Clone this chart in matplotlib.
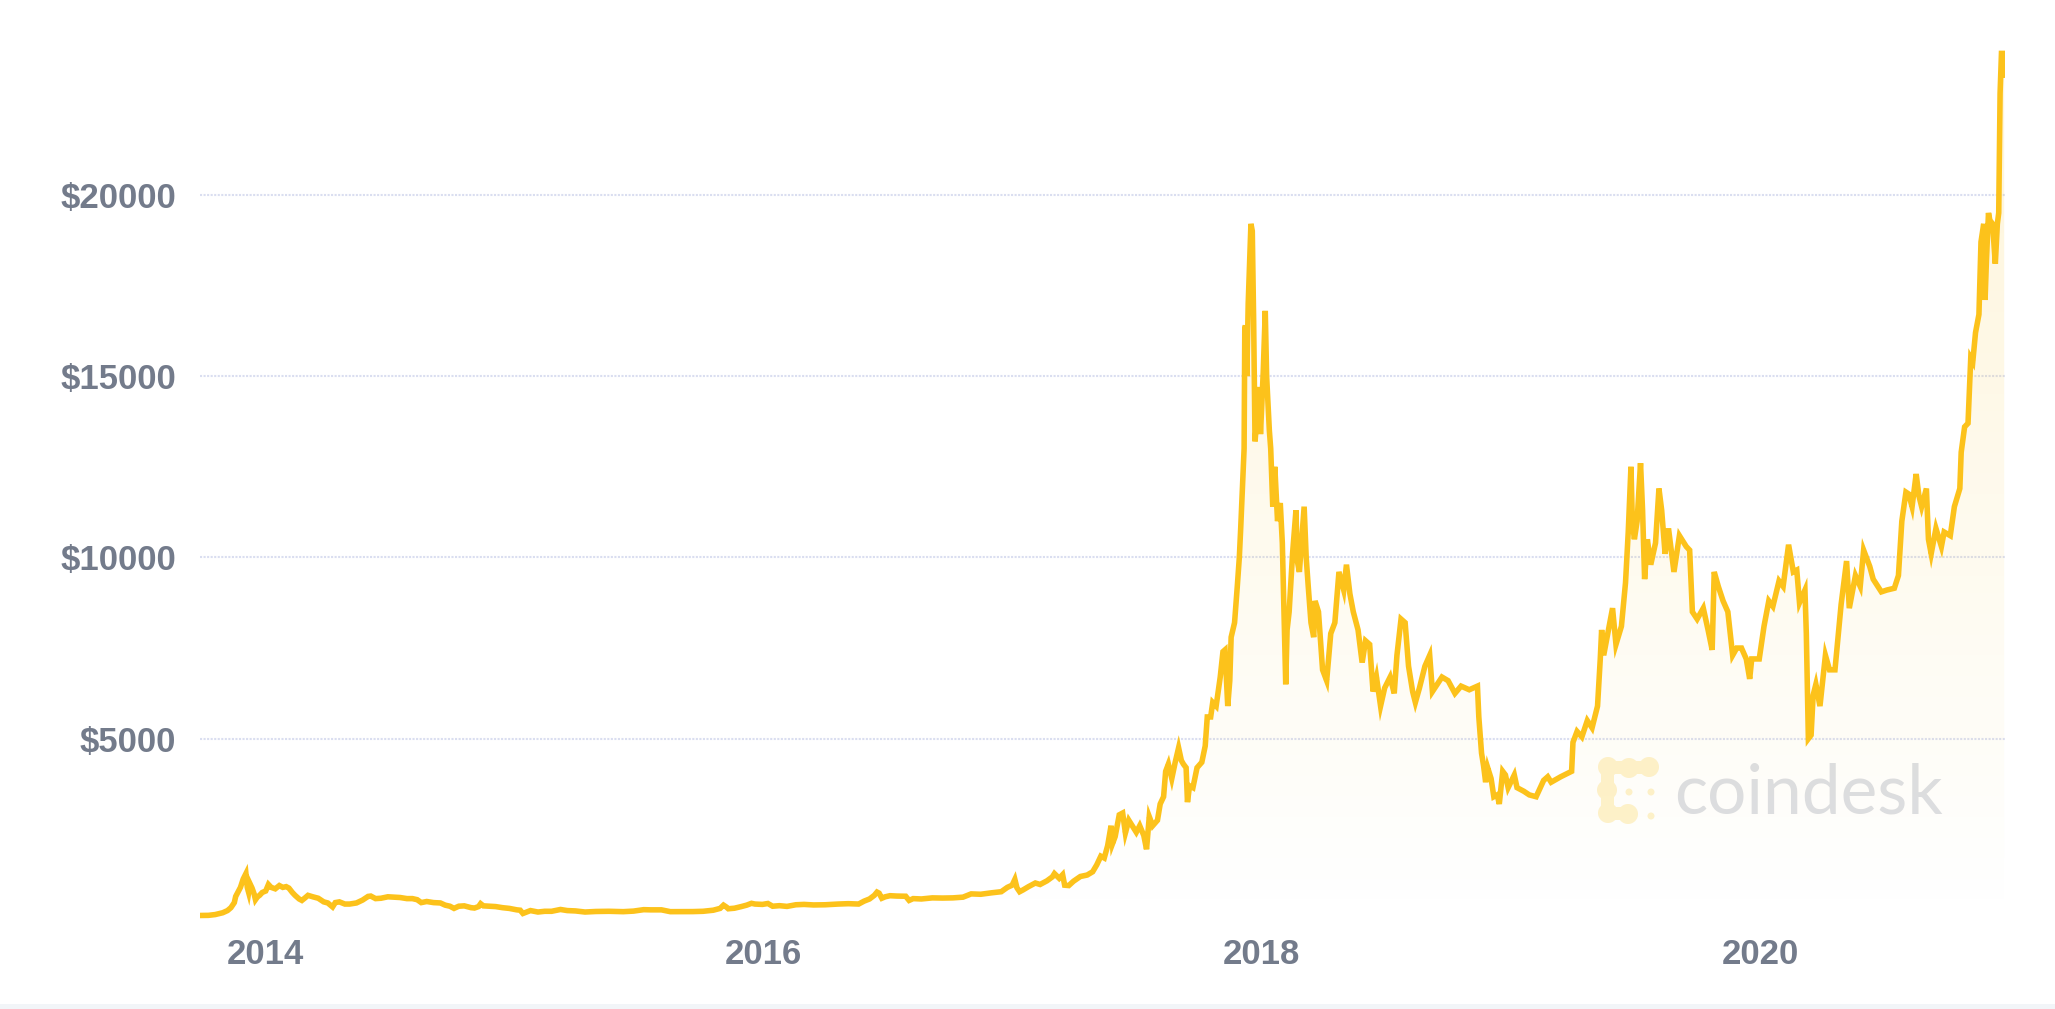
import numpy as np
import pandas as pd
import matplotlib
matplotlib.use('Agg')
from matplotlib import pyplot as plt
from matplotlib import dates as mdates
from matplotlib.colors import LinearSegmentedColormap
from matplotlib.patches import Circle, Rectangle

# price history (USD)
dates = [
    '2013-09-28', '2013-10-10', '2013-10-20', '2013-10-31', '2013-11-07', '2013-11-12', '2013-11-17',
    '2013-11-19', '2013-11-22', '2013-11-26', '2013-11-30', '2013-12-04', '2013-12-06', '2013-12-08',
    '2013-12-10', '2013-12-13', '2013-12-16', '2013-12-18', '2013-12-21', '2013-12-24', '2013-12-28',
    '2014-01-02', '2014-01-06', '2014-01-10', '2014-01-16', '2014-01-22', '2014-01-27', '2014-02-01',
    '2014-02-05', '2014-02-10', '2014-02-14', '2014-02-20', '2014-02-24', '2014-02-28', '2014-03-05',
    '2014-03-12', '2014-03-20', '2014-03-28', '2014-04-03', '2014-04-10', '2014-04-14', '2014-04-20',
    '2014-04-28', '2014-05-05', '2014-05-15', '2014-05-24', '2014-06-01', '2014-06-05', '2014-06-12',
    '2014-06-20', '2014-06-30', '2014-07-08', '2014-07-18', '2014-07-28', '2014-08-05', '2014-08-12',
    '2014-08-18', '2014-08-26', '2014-09-05', '2014-09-15', '2014-09-22', '2014-09-29', '2014-10-05',
    '2014-10-12', '2014-10-20', '2014-10-30', '2014-11-04', '2014-11-10', '2014-11-13', '2014-11-17',
    '2014-11-25', '2014-12-05', '2014-12-15', '2014-12-25', '2015-01-05', '2015-01-10', '2015-01-14',
    '2015-01-18', '2015-01-25', '2015-02-05', '2015-02-15', '2015-02-25', '2015-03-10', '2015-03-20',
    '2015-04-01', '2015-04-15', '2015-05-01', '2015-05-20', '2015-06-10', '2015-06-25', '2015-07-10',
    '2015-07-20', '2015-08-05', '2015-08-18', '2015-09-01', '2015-09-20', '2015-10-05', '2015-10-20',
    '2015-10-30', '2015-11-04', '2015-11-08', '2015-11-11', '2015-11-20', '2015-11-30', '2015-12-08',
    '2015-12-15', '2015-12-20', '2015-12-31', '2016-01-08', '2016-01-15', '2016-01-25', '2016-02-05',
    '2016-02-18', '2016-03-01', '2016-03-15', '2016-04-01', '2016-04-20', '2016-05-05', '2016-05-20',
    '2016-05-28', '2016-06-05', '2016-06-12', '2016-06-16', '2016-06-19', '2016-06-23', '2016-06-28',
    '2016-07-05', '2016-07-15', '2016-07-28', '2016-08-02', '2016-08-08', '2016-08-20', '2016-09-05',
    '2016-09-20', '2016-10-05', '2016-10-20', '2016-11-01', '2016-11-15', '2016-12-01', '2016-12-15',
    '2016-12-24', '2016-12-31', '2017-01-04', '2017-01-07', '2017-01-11', '2017-01-16', '2017-01-24',
    '2017-02-03', '2017-02-10', '2017-02-20', '2017-02-28', '2017-03-03', '2017-03-10', '2017-03-15',
    '2017-03-18', '2017-03-24', '2017-03-31', '2017-04-10', '2017-04-20', '2017-04-28', '2017-05-04',
    '2017-05-10', '2017-05-15', '2017-05-20', '2017-05-25', '2017-05-27', '2017-05-31', '2017-06-06',
    '2017-06-11', '2017-06-15', '2017-06-20', '2017-06-25', '2017-07-01', '2017-07-06', '2017-07-12',
    '2017-07-16', '2017-07-20', '2017-07-25', '2017-08-01', '2017-08-05', '2017-08-10', '2017-08-13',
    '2017-08-17', '2017-08-22', '2017-08-27', '2017-09-01', '2017-09-05', '2017-09-08', '2017-09-12',
    '2017-09-14', '2017-09-17', '2017-09-22', '2017-09-28', '2017-10-05', '2017-10-10', '2017-10-13',
    '2017-10-18', '2017-10-21', '2017-10-26', '2017-11-01', '2017-11-05', '2017-11-08', '2017-11-12',
    '2017-11-15', '2017-11-17', '2017-11-22', '2017-11-26', '2017-11-29', '2017-12-01', '2017-12-06',
    '2017-12-07', '2017-12-08', '2017-12-10', '2017-12-12', '2017-12-16', '2017-12-18', '2017-12-20',
    '2017-12-22', '2017-12-25', '2017-12-28', '2017-12-30', '2018-01-03', '2018-01-06', '2018-01-08',
    '2018-01-12', '2018-01-14', '2018-01-17', '2018-01-20', '2018-01-24', '2018-01-28', '2018-01-31',
    '2018-02-02', '2018-02-05', '2018-02-07', '2018-02-10', '2018-02-15', '2018-02-20', '2018-02-22',
    '2018-02-25', '2018-03-04', '2018-03-07', '2018-03-10', '2018-03-14', '2018-03-18', '2018-03-20',
    '2018-03-25', '2018-03-31', '2018-04-06', '2018-04-12', '2018-04-18', '2018-04-24', '2018-05-01',
    '2018-05-05', '2018-05-10', '2018-05-15', '2018-05-22', '2018-05-28', '2018-06-02', '2018-06-08',
    '2018-06-13', '2018-06-18', '2018-06-24', '2018-06-30', '2018-07-08', '2018-07-14', '2018-07-18',
    '2018-07-24', '2018-07-30', '2018-08-04', '2018-08-10', '2018-08-14', '2018-08-20', '2018-08-28',
    '2018-09-04', '2018-09-08', '2018-09-15', '2018-09-22', '2018-10-01', '2018-10-11', '2018-10-20',
    '2018-11-01', '2018-11-13', '2018-11-15', '2018-11-19', '2018-11-22', '2018-11-25', '2018-11-28',
    '2018-12-03', '2018-12-07', '2018-12-12', '2018-12-15', '2018-12-20', '2018-12-24', '2018-12-28',
    '2019-01-06', '2019-01-10', '2019-01-20', '2019-01-28', '2019-02-07', '2019-02-18', '2019-02-24',
    '2019-03-01', '2019-03-15', '2019-03-31', '2019-04-02', '2019-04-08', '2019-04-15', '2019-04-23',
    '2019-04-30', '2019-05-08', '2019-05-12', '2019-05-14', '2019-05-17', '2019-05-25', '2019-05-30',
    '2019-06-04', '2019-06-12', '2019-06-18', '2019-06-22', '2019-06-26', '2019-06-28', '2019-07-01',
    '2019-07-05', '2019-07-10', '2019-07-13', '2019-07-16', '2019-07-20', '2019-07-25', '2019-08-01',
    '2019-08-06', '2019-08-10', '2019-08-15', '2019-08-20', '2019-08-28', '2019-09-05', '2019-09-15',
    '2019-09-20', '2019-09-24', '2019-10-01', '2019-10-10', '2019-10-17', '2019-10-23', '2019-10-26',
    '2019-11-01', '2019-11-08', '2019-11-15', '2019-11-22', '2019-11-28', '2019-12-05', '2019-12-12',
    '2019-12-17', '2019-12-20', '2019-12-31', '2020-01-07', '2020-01-14', '2020-01-20', '2020-01-29',
    '2020-02-04', '2020-02-12', '2020-02-19', '2020-02-24', '2020-02-28', '2020-03-07', '2020-03-09',
    '2020-03-12', '2020-03-16', '2020-03-19', '2020-03-23', '2020-03-29', '2020-04-06', '2020-04-12',
    '2020-04-20', '2020-04-29', '2020-05-07', '2020-05-11', '2020-05-20', '2020-05-27', '2020-06-01',
    '2020-06-10', '2020-06-15', '2020-06-27', '2020-07-05', '2020-07-16', '2020-07-22', '2020-07-27',
    '2020-08-02', '2020-08-06', '2020-08-11', '2020-08-17', '2020-08-21', '2020-08-25', '2020-09-01',
    '2020-09-04', '2020-09-08', '2020-09-15', '2020-09-23', '2020-09-27', '2020-10-06', '2020-10-12',
    '2020-10-20', '2020-10-22', '2020-10-27', '2020-11-01', '2020-11-05', '2020-11-08', '2020-11-12',
    '2020-11-17', '2020-11-20', '2020-11-24', '2020-11-26', '2020-11-28', '2020-12-01', '2020-12-03',
    '2020-12-07', '2020-12-11', '2020-12-14', '2020-12-16', '2020-12-18', '2020-12-20', '2020-12-23',
    '2020-12-24',
]
prices = [
    125, 128, 150, 200, 260, 340, 480,
    650, 760, 900, 1130, 1280, 900, 760,
    1000, 880, 720, 560, 640, 680, 760,
    800, 980, 900, 860, 950, 900, 920,
    880, 760, 680, 580, 540, 600, 680,
    640, 600, 500, 470, 360, 480, 500,
    440, 440, 470, 550, 650, 660, 590,
    600, 640, 630, 620, 590, 590, 560,
    480, 510, 480, 470, 410, 380, 320,
    380, 390, 340, 330, 370, 450, 390,
    380, 370, 340, 320, 280, 270, 180,
    210, 260, 220, 240, 240, 290, 260,
    250, 220, 235, 240, 230, 245, 285,
    280, 280, 230, 230, 232, 240, 270,
    320, 410, 360, 310, 325, 370, 410,
    460, 440, 430, 455, 380, 395, 375,
    420, 430, 415, 420, 440, 450, 440,
    520, 580, 680, 770, 740, 600, 640,
    670, 660, 655, 540, 590, 580, 610,
    605, 610, 630, 720, 710, 750, 780,
    900, 960, 1120, 890, 780, 830, 920,
    1020, 980, 1080, 1190, 1280, 1150, 1250,
    960, 950, 1070, 1200, 1240, 1330, 1520,
    1760, 1710, 2050, 2600, 2100, 2300, 2900,
    2950, 2400, 2750, 2600, 2420, 2600, 2330,
    1950, 2850, 2600, 2750, 3200, 3400, 4100,
    4300, 3900, 4350, 4750, 4400, 4300, 4200,
    3250, 3700, 3650, 4200, 4350, 4800, 5600,
    5600, 6000, 5900, 6700, 7400, 7450, 5900,
    6600, 7800, 8200, 9200, 10000, 10800, 13000,
    16300, 16400, 15000, 17000, 19200, 19000, 16500,
    13200, 13900, 14700, 13400, 15100, 16800, 15000,
    13500, 13000, 11400, 12500, 11000, 11500, 10400,
    8800, 6500, 8000, 8500, 10100, 11300, 9900,
    9600, 11400, 10000, 9200, 8200, 7800, 8800,
    8500, 6900, 6600, 7900, 8200, 9600, 9100,
    9800, 9000, 8500, 8000, 7100, 7700, 7600,
    6300, 6700, 5900, 6400, 6700, 6250, 7300,
    8300, 8200, 7000, 6300, 6000, 6400, 7000,
    7300, 6300, 6500, 6700, 6600, 6250, 6450,
    6350, 6450, 5600, 4600, 4250, 3800, 4200,
    3900, 3400, 3450, 3200, 4100, 4000, 3650,
    4000, 3650, 3550, 3450, 3400, 3850, 3950,
    3800, 3950, 4100, 4900, 5200, 5050, 5500,
    5300, 5900, 7200, 8000, 7300, 8100, 8600,
    7600, 8100, 9300, 10700, 12500, 11000, 10500,
    11000, 12600, 11300, 9400, 10500, 9800, 10400,
    11900, 11300, 10100, 10800, 9600, 10600, 10300,
    10200, 8500, 8300, 8600, 8000, 7450, 9600,
    9200, 8800, 8500, 7300, 7500, 7500, 7200,
    6650, 7200, 7200, 8100, 8800, 8650, 9350,
    9200, 10350, 9600, 9650, 8750, 9100, 7900,
    5000, 5100, 6200, 6500, 5900, 7300, 6900,
    6900, 8700, 9900, 8600, 9500, 9200, 10200,
    9750, 9400, 9050, 9100, 9150, 9500, 11000,
    11800, 11750, 11400, 12300, 11700, 11400, 11900,
    10500, 10100, 10800, 10300, 10700, 10600, 11400,
    11900, 12900, 13600, 13700, 15500, 15400, 16200,
    16700, 18700, 19200, 17100, 18200, 19500, 19300,
    19200, 18100, 19200, 19500, 22800, 23900, 23900,
    23300,
]

y_ticks = [5000, 10000, 15000, 20000]
x_tick_years = ['2014', '2016', '2018', '2020']

W, H = 2055, 1009
line_color = '#fcc21b'
label_color = '#737b8b'

x = mdates.date2num(pd.to_datetime(dates))
base = mdates.date2num(pd.Timestamp('2014-01-01'))
x_left = base - 95.3
x_right = base + 2550.2
y_top = 24270

fig = plt.figure(figsize=(W / 100, H / 100), dpi=100)
fig.patch.set_facecolor('white')

# background layer in pixel coords (watermark + bottom strip)
bg = fig.add_axes([0, 0, 1, 1], zorder=0)
bg.set_xlim(0, W)
bg.set_ylim(H, 0)
bg.axis('off')
bg.add_patch(Rectangle((0, 1004), W, 6, color='#f2f5f8', lw=0))

logo_c = '#fef2cc'
r = 10
for cx, cy in [(1608, 767), (1629, 768), (1649, 767), (1607, 790), (1608, 813), (1628, 814)]:
    bg.add_patch(Circle((cx, cy), r, color=logo_c, lw=0))
bg.add_patch(Rectangle((1608, 761), 41, 13, color=logo_c, lw=0))
bg.add_patch(Rectangle((1601, 767), 13, 46, color=logo_c, lw=0))
bg.add_patch(Rectangle((1608, 807), 20, 13, color=logo_c, lw=0))
for cx, cy in [(1629, 792), (1651, 792), (1651, 816)]:
    bg.add_patch(Circle((cx, cy), 3.5, color=logo_c, lw=0))
bg.text(1674, 814, 'coindesk', fontsize=50, family=['Lato', 'DejaVu Sans'],
        color='#dcdee3', ha='left', va='baseline')

ax = fig.add_axes([200 / W, (H - 920) / H, 1805 / W, 880 / H], zorder=1)
ax.patch.set_alpha(0)

# gradient fill under the line
poly = ax.fill_between(x, prices, 0, color='none', lw=0)
cmap = LinearSegmentedColormap.from_list('fade', [(0.988, 0.761, 0.106, 0.0), (0.988, 0.761, 0.106, 0.17)])
grad = np.linspace(0, 1, 256).reshape(-1, 1)
img = ax.imshow(grad, extent=[x_left, x_right, 0, y_top], origin='lower', aspect='auto',
                cmap=cmap, zorder=1)
img.set_clip_path(poly.get_paths()[0], transform=ax.transData)

ax.plot(x, prices, color=line_color, lw=4, solid_joinstyle='miter', zorder=3)

for v in y_ticks:
    ax.axhline(v, color='#dadef0', lw=1.5, linestyle=(0, (1, 0.7)), zorder=0)

ax.set_xlim(x_left, x_right)
ax.set_ylim(0, y_top)
for s in ax.spines.values():
    s.set_visible(False)

ax.set_yticks(y_ticks)
ax.set_yticklabels(['$%d' % v for v in y_ticks])
ax.set_xticks([mdates.date2num(pd.Timestamp(yr + '-01-01')) for yr in x_tick_years])
ax.set_xticklabels(x_tick_years)
ax.tick_params(axis='both', length=0, labelsize=25, labelcolor=label_color)
ax.tick_params(axis='y', pad=17)
ax.tick_params(axis='x', pad=13)
for lab in ax.get_xticklabels() + ax.get_yticklabels():
    lab.set_fontfamily(['Liberation Sans', 'DejaVu Sans'])
    lab.set_fontweight('bold')

fig.savefig('out.png', dpi=100)
